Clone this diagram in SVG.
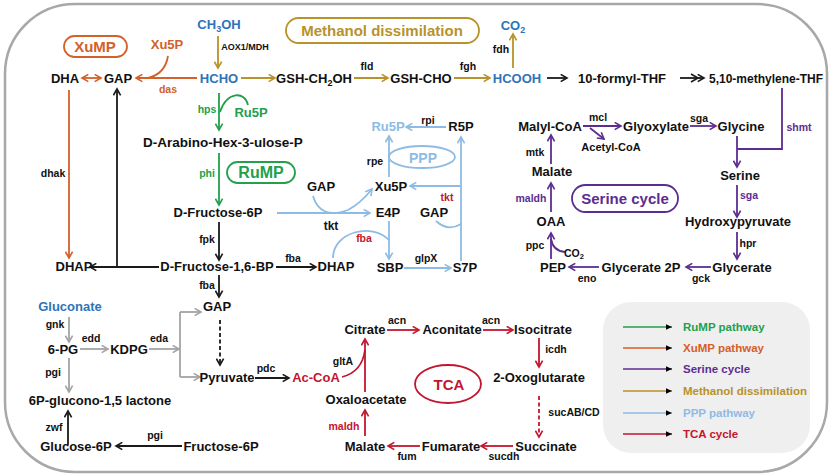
<svg xmlns="http://www.w3.org/2000/svg" width="837" height="476" viewBox="0 0 837 476">
<style>
text{font-family:"Liberation Sans",Arial,sans-serif;font-weight:bold;}
.t{font-size:13px;fill:#111;text-anchor:middle;}
.e{font-size:10.5px;fill:#111;text-anchor:middle;}
.s{font-size:11px;fill:#111;text-anchor:middle;}
.blue{fill:#2f74b8;}
.org{fill:#d4602a;}
.grn{fill:#22a04b;}
.pur{fill:#5c2d91;}
.red{fill:#c2162e;}
.lb{fill:#8dbbe4;}
.gold{fill:#b8922a;}
.ln{fill:none;stroke-width:1.8;}
.k{stroke:#1a1a1a;}
.go{stroke:#b8922a;}
.or{stroke:#d4602a;}
.gr{stroke:#22a04b;}
.pu{stroke:#5c2d91;}
.rd{stroke:#c2162e;}
.lbl{stroke:#8dbbe4;}
.gy{stroke:#a3a3a3;}
.box{fill:#fff;stroke-width:1.8;}
.lg{font-size:11.5px;text-anchor:start;}
</style>
<defs>
<marker id="mk" viewBox="0 0 10 10" refX="8" refY="5" markerWidth="9" markerHeight="9" markerUnits="userSpaceOnUse" orient="auto-start-reverse"><path d="M1,1 L8,5 L1,9" fill="none" stroke="#1a1a1a" stroke-width="1.8"/></marker>
<marker id="mgo" viewBox="0 0 10 10" refX="8" refY="5" markerWidth="9" markerHeight="9" markerUnits="userSpaceOnUse" orient="auto-start-reverse"><path d="M1,1 L8,5 L1,9" fill="none" stroke="#b8922a" stroke-width="1.8"/></marker>
<marker id="mor" viewBox="0 0 10 10" refX="8" refY="5" markerWidth="9" markerHeight="9" markerUnits="userSpaceOnUse" orient="auto-start-reverse"><path d="M1,1 L8,5 L1,9" fill="none" stroke="#d4602a" stroke-width="1.8"/></marker>
<marker id="mgr" viewBox="0 0 10 10" refX="8" refY="5" markerWidth="9" markerHeight="9" markerUnits="userSpaceOnUse" orient="auto-start-reverse"><path d="M1,1 L8,5 L1,9" fill="none" stroke="#22a04b" stroke-width="1.8"/></marker>
<marker id="mpu" viewBox="0 0 10 10" refX="8" refY="5" markerWidth="9" markerHeight="9" markerUnits="userSpaceOnUse" orient="auto-start-reverse"><path d="M1,1 L8,5 L1,9" fill="none" stroke="#5c2d91" stroke-width="1.8"/></marker>
<marker id="mrd" viewBox="0 0 10 10" refX="8" refY="5" markerWidth="9" markerHeight="9" markerUnits="userSpaceOnUse" orient="auto-start-reverse"><path d="M1,1 L8,5 L1,9" fill="none" stroke="#c2162e" stroke-width="1.8"/></marker>
<marker id="mlb" viewBox="0 0 10 10" refX="8" refY="5" markerWidth="9" markerHeight="9" markerUnits="userSpaceOnUse" orient="auto-start-reverse"><path d="M1,1 L8,5 L1,9" fill="none" stroke="#8dbbe4" stroke-width="1.8"/></marker>
<marker id="mgy" viewBox="0 0 10 10" refX="8" refY="5" markerWidth="9" markerHeight="9" markerUnits="userSpaceOnUse" orient="auto-start-reverse"><path d="M1,1 L8,5 L1,9" fill="none" stroke="#a3a3a3" stroke-width="1.8"/></marker>
<marker id="ml" viewBox="0 0 10 10" refX="9" refY="5" markerWidth="7" markerHeight="7" markerUnits="userSpaceOnUse" orient="auto"><path d="M0,1 L9,5 L0,9 Z"/></marker>
</defs>

<rect x="5" y="4" width="822" height="468" rx="70" fill="#fff" stroke="#a8a8a8" stroke-width="2.5"/>

<g id="connectors">
<path class="ln go" d="M218,36 L218,68" marker-end="url(#mgo)"/>
<path class="ln go" d="M241,78 L275,78" marker-end="url(#mgo)"/>
<path class="ln go" d="M354,78 L388,78" marker-end="url(#mgo)"/>
<path class="ln go" d="M454,78 L490,78" marker-end="url(#mgo)"/>
<path class="ln go" d="M513,68 L513,34" marker-end="url(#mgo)"/>
<path class="ln k" d="M547,78 L567,78" marker-end="url(#mk)"/>
<path class="ln k" d="M680,78 L704,78" marker-end="url(#mk)"/>
<path d="M691,74 L698,78 L691,82" fill="none" stroke="#1a1a1a" stroke-width="1.6"/>
<path class="ln or" d="M82,78 L101,78" marker-start="url(#mor)" marker-end="url(#mor)"/>
<path class="ln or" d="M197,78 L136,78" marker-end="url(#mor)"/>
<path class="ln or" d="M168,56 Q165,74 148,78"/>
<path class="ln or" d="M69,90 L69,258" marker-end="url(#mor)"/>
<path class="ln gr" d="M219,93 L219,130" marker-end="url(#mgr)"/>
<path class="ln gr" d="M248,105 C245,91 227,91 220,112"/>
<path class="ln gr" d="M219,153 L219,205" marker-end="url(#mgr)"/>
<path class="ln k" d="M219,222 L219,260" marker-end="url(#mk)"/>
<path class="ln k" d="M159,267 L90,267" marker-end="url(#mk)"/>
<path class="ln k" d="M117,267 L117,89" marker-end="url(#mk)"/>
<path class="ln k" d="M276,267 L316,267" marker-end="url(#mk)"/>
<path class="ln k" d="M219,275 L219,297" marker-end="url(#mk)"/>
<path class="ln lbl" d="M446,127 L406,127" marker-end="url(#mlb)"/>
<path class="ln lbl" d="M389,177 L389,136" marker-end="url(#mlb)"/>
<path class="ln lbl" d="M461,261 L461,137" marker-end="url(#mlb)"/>
<path class="ln lbl" d="M461,186 L410,186" marker-end="url(#mlb)"/>
<path class="ln lbl" d="M277,213 L370,213" marker-end="url(#mlb)"/>
<path class="ln lbl" d="M313,196 Q320,220 348,210 Q361,203 372,189" marker-end="url(#mlb)"/>
<path class="ln lbl" d="M436,221 Q448,232 461,224"/>
<path class="ln lbl" d="M389,221 L389,259" marker-end="url(#mlb)"/>
<path class="ln lbl" d="M333,258 C333,232 372,222 389,240"/>
<path class="ln lbl" d="M404,268 L451,268" marker-end="url(#mlb)"/>
<path class="ln pu" d="M583,126 L621,126" marker-end="url(#mpu)"/>
<path class="ln pu" d="M590,128 L604,139" marker-end="url(#mpu)"/>
<path class="ln pu" d="M690,126 L716,126" marker-end="url(#mpu)"/>
<path class="ln pu" d="M782,88 L782,149 L737,149"/>
<path class="ln pu" d="M737,136 L737,167" marker-end="url(#mpu)"/>
<path class="ln pu" d="M737,185 L737,217" marker-end="url(#mpu)"/>
<path class="ln pu" d="M737,232 L737,259" marker-end="url(#mpu)"/>
<path class="ln pu" d="M711,267 L686,267" marker-end="url(#mpu)"/>
<path class="ln pu" d="M599,267 L569,267" marker-end="url(#mpu)"/>
<path class="ln pu" d="M551,259 L551,233" marker-end="url(#mpu)"/>
<path class="ln pu" d="M565,252 Q553,251 551,239"/>
<path class="ln pu" d="M551,212 L551,183" marker-end="url(#mpu)"/>
<path class="ln pu" d="M551,164 L551,135" marker-end="url(#mpu)"/>
<path class="ln gy" d="M69,317 L69,342" marker-end="url(#mgy)"/>
<path class="ln gy" d="M80,349 L108,349" marker-end="url(#mgy)"/>
<path class="ln gy" d="M149,349 L179,349" marker-end="url(#mgy)"/>
<path class="ln gy" d="M180,312 L180,377"/>
<path class="ln gy" d="M180,312 L201,312" marker-end="url(#mgy)"/>
<path class="ln gy" d="M180,377 L200,377" marker-end="url(#mgy)"/>
<path class="ln gy" d="M69,358 L69,392" marker-end="url(#mgy)"/>
<path class="ln k" d="M220,320 L220,365" stroke-dasharray="4,2.5" marker-end="url(#mk)"/>
<path class="ln k" d="M255,378 L289,378" marker-end="url(#mk)"/>
<path class="ln k" d="M68,445 L68,411" marker-end="url(#mk)"/>
<path class="ln k" d="M182,446 L116,446" marker-end="url(#mk)"/>
<path class="ln rd" d="M387,330 L419,330" marker-end="url(#mrd)"/>
<path class="ln rd" d="M483,330 L513,330" marker-end="url(#mrd)"/>
<path class="ln rd" d="M539,338 L539,367" marker-end="url(#mrd)"/>
<path class="ln rd" d="M539,396 L539,437" stroke-dasharray="4,2.5" marker-end="url(#mrd)"/>
<path class="ln rd" d="M513,446 L481,446" marker-end="url(#mrd)"/>
<path class="ln rd" d="M420,446 L388,446" marker-end="url(#mrd)"/>
<path class="ln rd" d="M365,436 L365,410" marker-end="url(#mrd)"/>
<path class="ln rd" d="M365,392 L365,339" marker-end="url(#mrd)"/>
<path class="ln rd" d="M342,377 Q362,372 365,350"/>
</g>

<g id="titles">
<rect class="box" x="286" y="18" width="193" height="25" rx="12.5" stroke="#b8922a"/>
<text class="gold" x="382" y="36" font-size="15" text-anchor="middle">Methanol dissimilation</text>
<rect class="box" x="64" y="36" width="63" height="21" rx="10.5" stroke="#d4602a"/>
<text class="org" x="95" y="52" font-size="15" text-anchor="middle">XuMP</text>
<rect class="box" x="227" y="162" width="68" height="21" rx="10.5" stroke="#22a04b"/>
<text class="grn" x="261" y="178" font-size="16" text-anchor="middle">RuMP</text>
<ellipse cx="422" cy="157" rx="33" ry="11" fill="#fff" stroke="#8dbbe4" stroke-width="1.8"/>
<text class="lb" x="423" y="163" font-size="14" text-anchor="middle">PPP</text>
<rect class="box" x="572" y="185" width="106" height="27" rx="13.5" stroke="#5c2d91"/>
<text class="pur" x="625" y="204" font-size="15" text-anchor="middle">Serine cycle</text>
<ellipse cx="448" cy="384" rx="33" ry="19" fill="#fff" stroke="#c2162e" stroke-width="1.8"/>
<text class="red" x="449" y="390" font-size="15" text-anchor="middle">TCA</text>
</g>

<g id="methanol">
<text class="t blue" x="219" y="29">CH<tspan font-size="9" dy="3">3</tspan><tspan dy="-3">OH</tspan></text>
<text class="e" x="245" y="50" style="font-size:9px">AOX1/MDH</text>
<text class="t blue" x="219" y="83">HCHO</text>
<text class="t" x="314" y="83">GSH-CH<tspan font-size="9" dy="3">2</tspan><tspan dy="-3">OH</tspan></text>
<text class="e" x="367" y="70">fld</text>
<text class="t" x="421" y="83">GSH-CHO</text>
<text class="e" x="468" y="70">fgh</text>
<text class="t blue" x="517" y="83">HCOOH</text>
<text class="t blue" x="513" y="30">CO<tspan font-size="9" dy="3">2</tspan></text>
<text class="e" x="501" y="53">fdh</text>
<text class="t" x="622" y="83">10-formyl-THF</text>
<text class="t" x="766" y="83" style="font-size:12px">5,10-methylene-THF</text>
</g>

<g id="xump">
<text class="t org" x="167" y="49">Xu5P</text>
<text class="e org" x="168" y="93">das</text>
<text class="t" x="65" y="83">DHA</text>
<text class="t" x="118" y="83">GAP</text>
<text class="e" x="53" y="177">dhak</text>
<text class="t" x="74" y="271">DHAP</text>
</g>

<g id="rump">
<text class="e grn" x="207" y="113">hps</text>
<text class="t grn" x="251" y="117">Ru5P</text>
<text class="t" x="223" y="147" style="font-size:13.5px">D-Arabino-Hex-3-ulose-P</text>
<text class="e grn" x="207" y="177">phi</text>
<text class="t" x="218" y="217">D-Fructose-6P</text>
<text class="e" x="207" y="243">fpk</text>
<text class="t" x="217" y="271">D-Fructose-1,6-BP</text>
<text class="e" x="293" y="262">fba</text>
<text class="t" x="336" y="271">DHAP</text>
<text class="e" x="207" y="289">fba</text>
</g>

<g id="ppp">
<text class="t lb" x="388" y="131">Ru5P</text>
<text class="e" x="428" y="124">rpi</text>
<text class="t" x="461" y="131">R5P</text>
<text class="e" x="375" y="165">rpe</text>
<text class="t" x="391" y="191">Xu5P</text>
<text class="t" x="321" y="191">GAP</text>
<text class="e red" x="447" y="201">tkt</text>
<text class="t" x="388" y="217">E4P</text>
<text class="t" x="434" y="217">GAP</text>
<text class="t" x="331" y="230" style="font-size:12px">tkt</text>
<text class="e red" x="364" y="242">fba</text>
<text class="t" x="390" y="272">SBP</text>
<text class="e" x="426" y="262">glpX</text>
<text class="t" x="465" y="272">S7P</text>
</g>

<g id="serine">
<text class="t" x="550" y="131">Malyl-CoA</text>
<text class="e" x="598" y="121">mcl</text>
<text class="s" x="611" y="151">Acetyl-CoA</text>
<text class="t" x="656" y="131">Glyoxylate</text>
<text class="e" x="699" y="122">sga</text>
<text class="t" x="741" y="131">Glycine</text>
<text class="e pur" x="799" y="131">shmt</text>
<text class="t" x="740" y="180">Serine</text>
<text class="e pur" x="749" y="199">sga</text>
<text class="t" x="738" y="226">Hydroxypyruvate</text>
<text class="e" x="748" y="247">hpr</text>
<text class="t" x="742" y="272">Glycerate</text>
<text class="e" x="701" y="282">gck</text>
<text class="t" x="641" y="272">Glycerate 2P</text>
<text class="e" x="587" y="282">eno</text>
<text class="t" x="553" y="272">PEP</text>
<text class="e" x="535" y="249">ppc</text>
<text class="e" x="574" y="257">CO<tspan font-size="7.5" dy="2">2</tspan></text>
<text class="t" x="551" y="226">OAA</text>
<text class="e pur" x="531" y="202">maldh</text>
<text class="t" x="552" y="176">Malate</text>
<text class="e" x="535" y="156">mtk</text>
</g>

<g id="ed">
<text class="t" x="217" y="311">GAP</text>
<text class="t blue" x="70" y="311">Gluconate</text>
<text class="e" x="55" y="328">gnk</text>
<text class="t" x="63" y="354">6-PG</text>
<text class="e" x="91" y="342">edd</text>
<text class="t" x="129" y="354">KDPG</text>
<text class="e" x="159" y="342">eda</text>
<text class="t" x="227" y="382">Pyruvate</text>
<text class="e" x="266" y="372">pdc</text>
<text class="t red" x="316" y="382">Ac-CoA</text>
<text class="e" x="53" y="376">pgi</text>
<text class="t" x="100" y="405">6P-glucono-1,5 lactone</text>
<text class="e" x="54" y="431">zwf</text>
<text class="t" x="76" y="451">Glucose-6P</text>
<text class="e" x="155" y="439">pgi</text>
<text class="t" x="221" y="451">Fructose-6P</text>
</g>

<g id="tca">
<text class="t" x="365" y="334">Citrate</text>
<text class="e" x="397" y="324">acn</text>
<text class="t" x="452" y="334">Aconitate</text>
<text class="e" x="491" y="324">acn</text>
<text class="t" x="543" y="334">Isocitrate</text>
<text class="e" x="556" y="353">icdh</text>
<text class="t" x="539" y="382">2-Oxoglutarate</text>
<text class="e" x="574" y="416">sucAB/CD</text>
<text class="t" x="546" y="451">Succinate</text>
<text class="e" x="504" y="460">sucdh</text>
<text class="t" x="451" y="451">Fumarate</text>
<text class="e" x="407" y="460">fum</text>
<text class="t" x="365" y="451">Malate</text>
<text class="e red" x="344" y="430">maldh</text>
<text class="t" x="366" y="404">Oxaloacetate</text>
<text class="e" x="343" y="365">gltA</text>
</g>

<g id="legend">
<rect x="603" y="302" width="207" height="151" rx="28" fill="#efefef"/>
<line x1="623" y1="327" x2="672" y2="327" stroke="#22a04b" stroke-width="1.5" marker-end="url(#ml)" fill="#22a04b"/>
<text class="lg grn" x="683" y="331">RuMP pathway</text>
<line x1="623" y1="348" x2="672" y2="348" stroke="#d4602a" stroke-width="1.5" marker-end="url(#ml)" fill="#d4602a"/>
<text class="lg org" x="683" y="352">XuMP pathway</text>
<line x1="623" y1="369" x2="672" y2="369" stroke="#5c2d91" stroke-width="1.5" marker-end="url(#ml)" fill="#5c2d91"/>
<text class="lg pur" x="683" y="373">Serine cycle</text>
<line x1="623" y1="391" x2="672" y2="391" stroke="#b8922a" stroke-width="1.5" marker-end="url(#ml)" fill="#b8922a"/>
<text class="lg gold" x="683" y="395">Methanol dissimilation</text>
<line x1="623" y1="413" x2="672" y2="413" stroke="#8dbbe4" stroke-width="1.5" marker-end="url(#ml)" fill="#8dbbe4"/>
<text class="lg lb" x="683" y="417">PPP pathway</text>
<line x1="623" y1="434" x2="672" y2="434" stroke="#c2162e" stroke-width="1.5" marker-end="url(#ml)" fill="#c2162e"/>
<text class="lg red" x="683" y="438">TCA cycle</text>
</g>
</svg>
